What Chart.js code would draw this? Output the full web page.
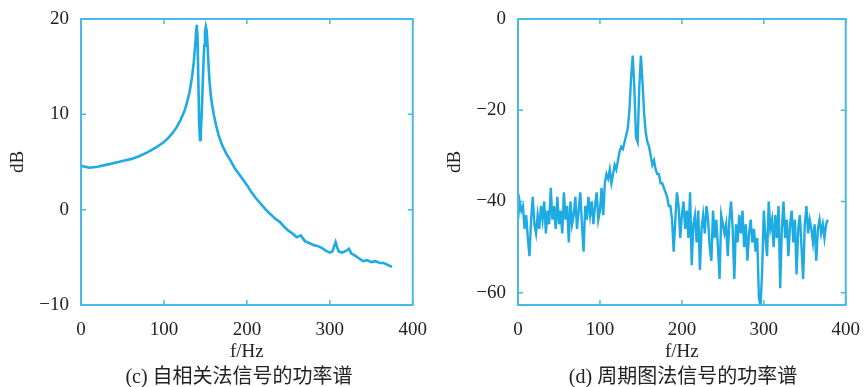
<!DOCTYPE html>
<html>
<head>
<meta charset="utf-8">
<script src="https://cdn.jsdelivr.net/npm/chart.js@4"></script>
<style>
  body { margin: 0; background: #fff; width: 866px; height: 387px; overflow: hidden; position: relative; }
  canvas { position: absolute; top: 0; }
  .cap { position: absolute; top: 366px; line-height: 20px; font: 20px/20px "Liberation Serif", "Noto Sans CJK SC", serif; color: #222; white-space: nowrap; transform: translateX(-50%); }
</style>
</head>
<body>
<canvas id="chartC" width="433" height="387" style="left:0"></canvas>
<canvas id="chartD" width="433" height="387" style="left:433px"></canvas>
<div class="cap" style="left:239px">(c) 自相关法信号的功率谱</div>
<div class="cap" style="left:683px">(d) 周期图法信号的功率谱</div>
<script>
// (c) autocorrelation method
var freqC = [0, 5, 10, 15, 20, 30, 40, 50, 60, 70, 80, 90, 100, 105, 110, 115, 120, 125, 128, 131, 134, 136, 138, 139, 139.5, 140.5, 141.5, 142.5, 143.5, 144.5, 145.5, 146.5, 147.5, 148.5, 149.5, 150.5, 151.5, 152.5, 153.5, 155, 157, 160, 163, 166, 170, 175, 180, 185, 190, 195, 200, 205, 210, 215, 220, 225, 230, 235, 240, 245, 250, 255, 260, 265, 270, 275, 280, 285, 290, 295, 300, 303, 305, 307, 309, 311, 315, 320, 323, 326, 330, 335, 340, 345, 350, 355, 360, 365, 370, 375];
var dbC = [4.6, 4.5, 4.4, 4.45, 4.5, 4.7, 4.9, 5.1, 5.3, 5.6, 6.0, 6.5, 7.1, 7.5, 8.0, 8.6, 9.4, 10.4, 11.3, 12.4, 14.0, 15.5, 17.6, 18.9, 19.4, 18.2, 13.5, 9.0, 7.3, 8.2, 10.0, 12.5, 15.0, 17.2, 18.7, 19.2, 18.8, 17.4, 15.6, 13.4, 11.6, 10.0, 8.8, 7.8, 6.8, 5.9, 5.2, 4.4, 3.8, 3.2, 2.6, 1.9, 1.3, 0.8, 0.3, -0.2, -0.6, -1.0, -1.3, -1.8, -2.2, -2.5, -2.9, -2.7, -3.3, -3.5, -3.7, -3.8, -4.0, -4.3, -4.5, -4.4, -3.9, -3.4, -4.0, -4.4, -4.5, -4.3, -4.1, -4.6, -4.8, -5.1, -5.4, -5.3, -5.5, -5.4, -5.6, -5.6, -5.8, -6.0];

// (d) periodogram, every 2 Hz from 0 to 378
var freqD = [];
for (var f = 0; f <= 378; f += 2) freqD.push(f);
var dbD = [
  -44, -40, -42, -41, -46, -43, -48, -52, -44, -39,
  -45, -47, -43, -46, -41, -44, -40, -47, -42, -45,
  -37, -44, -41, -46, -39, -45, -42, -47, -38, -44,
  -41, -49, -40, -45, -43, -39, -46, -42, -38, -45,
  -51, -41, -44, -39, -43, -40, -45, -41, -38, -44,
  -42, -37, -43, -36, -34, -35, -33, -36, -34, -32,
  -33, -31, -29, -28, -28.5, -27, -25.5, -24, -20, -13,
  -8, -15, -26, -27, -15, -8, -14, -21, -25, -27,
  -28, -30, -32, -31, -33, -34, -34, -36, -36, -37,
  -38, -39, -41, -41, -44, -51, -44, -38, -41, -48,
  -43, -40, -46, -42, -48, -38, -54, -45, -43, -49,
  -42, -55, -46, -43, -47, -41, -44, -50, -53, -42,
  -48, -44, -50, -57, -43, -45, -47, -45, -52, -44,
  -40, -46, -57, -45, -49, -43, -47, -42, -50, -45,
  -53, -47, -44, -49, -46, -51, -48, -61, -63, -55,
  -42, -48, -52, -40, -46, -44, -50, -43, -48, -41,
  -59, -46, -40, -48, -44, -52, -45, -42, -49, -44,
  -56, -46, -43, -50, -57, -45, -41, -47, -44, -46,
  -49, -45, -53, -46, -44, -47, -45, -48, -45, -44
];

var xTicks = [0, 100, 200, 300, 400];
var yTicksC = [-10, 0, 10, 20];
var yTicksD = [-60, -40, -20, 0];

var axisColor = '#4ab8e8';
var lineColor = '#1eaae3';
var font = { family: '"Liberation Serif", serif', size: 19 };

// MATLAB style box with inward ticks on all four sides
const boxPlugin = {
    id: 'box',
    afterDatasetsDraw(chart) {
        const a = chart.chartArea;
        const ctx = chart.ctx;
        const len = 5;
        ctx.save();
        ctx.strokeStyle = axisColor;
        ctx.lineWidth = 2;
        ctx.strokeRect(a.left, a.top, a.right - a.left, a.bottom - a.top);
        ctx.lineWidth = 1.5;
        ctx.beginPath();
        chart.scales.x.ticks.forEach((t) => {
            const px = chart.scales.x.getPixelForValue(t.value);
            ctx.moveTo(px, a.bottom); ctx.lineTo(px, a.bottom - len);
            ctx.moveTo(px, a.top); ctx.lineTo(px, a.top + len);
        });
        chart.scales.y.ticks.forEach((t) => {
            const py = chart.scales.y.getPixelForValue(t.value);
            ctx.moveTo(a.left, py); ctx.lineTo(a.left + len, py);
            ctx.moveTo(a.right, py); ctx.lineTo(a.right - len, py);
        });
        ctx.stroke();
        ctx.restore();
    }
};

function makeChart(id, xs, ys, yMin, yMax, yTicks, yAxisWidth, padRight, titlePad, lineWidth) {
    var ctx = document.getElementById(id).getContext('2d');
    return new Chart(ctx, {
        type: 'line',
        data: {
            datasets: [{
                data: xs.map((x, i) => ({ x: x, y: ys[i] })),
                borderColor: lineColor,
                borderWidth: lineWidth,
                pointRadius: 0,
                tension: 0,
                fill: false
            }]
        },
        options: {
            responsive: false,
            animation: false,
            layout: { padding: { top: 19, right: padRight, left: 0, bottom: 0 } },
            plugins: { legend: false, tooltip: false },
            scales: {
                x: {
                    type: 'linear',
                    min: 0,
                    max: 400,
                    grid: { display: false },
                    border: { display: false },
                    afterBuildTicks: (scale) => { scale.ticks = xTicks.map((v) => ({ value: v })); },
                    afterFit: (scale) => { scale.height = 82; },
                    ticks: { color: '#222', font: font, padding: 6, maxRotation: 0 },
                    title: { display: true, text: 'f/Hz', color: '#222', font: font, padding: { top: 0, bottom: 24 } }
                },
                y: {
                    type: 'linear',
                    min: yMin,
                    max: yMax,
                    grid: { display: false },
                    border: { display: false },
                    afterBuildTicks: (scale) => { scale.ticks = yTicks.map((v) => ({ value: v })); },
                    afterFit: (scale) => { scale.width = yAxisWidth; },
                    ticks: {
                        color: '#222',
                        font: font,
                        padding: 4,
                        callback: function(v) { return String(v).replace('-', '\u2212'); }
                    },
                    title: { display: true, text: 'dB', color: '#222', font: font, padding: { top: titlePad, bottom: 0 } }
                }
            }
        },
        plugins: [boxPlugin]
    });
}

var chartC = makeChart('chartC', freqC, dbC, -10, 20, yTicksC, 81, 20, 7, 2.6);
var chartD = makeChart('chartD', freqD, dbD, -62.7, 0, yTicksD, 85, 16, 11, 2.4);
</script>
</body>
</html>
